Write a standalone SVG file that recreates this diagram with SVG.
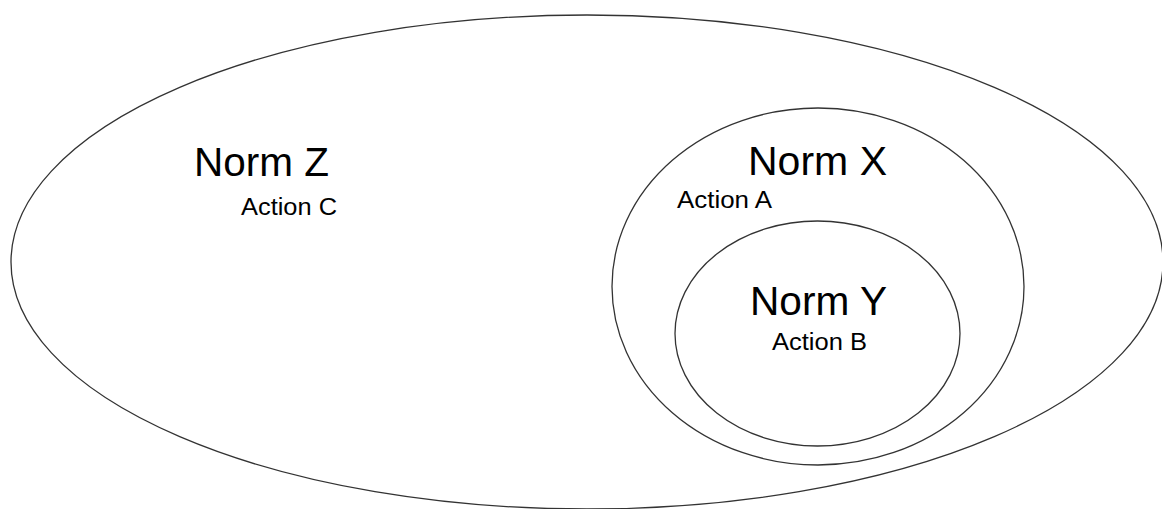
<svg xmlns="http://www.w3.org/2000/svg" width="1162" height="509" viewBox="0 0 1162 509">
<style>
.e{fill:none;stroke:#333;stroke-width:1.3}
.big{font-family:"Liberation Sans",Arial,sans-serif;font-size:40px;fill:#000}
.sm{font-family:"Liberation Sans",Arial,sans-serif;font-size:23px;fill:#000}
</style>
<rect width="1162" height="509" fill="#fff"/>
<g id="normZ">
<ellipse class="e" cx="587" cy="262" rx="576" ry="247"/>
<text class="big" x="194" y="176" textLength="135" lengthAdjust="spacingAndGlyphs">Norm Z</text>
<text class="sm" x="241" y="215" textLength="96" lengthAdjust="spacingAndGlyphs">Action C</text>
</g>
<g id="normX">
<ellipse class="e" cx="818" cy="286.5" rx="206" ry="178.5"/>
<text class="big" x="748" y="175" textLength="139" lengthAdjust="spacingAndGlyphs">Norm X</text>
<text class="sm" x="677" y="208" textLength="95" lengthAdjust="spacingAndGlyphs">Action A</text>
</g>
<g id="normY">
<ellipse class="e" cx="817.5" cy="333.5" rx="142.5" ry="112.5"/>
<text class="big" x="750" y="315" textLength="137" lengthAdjust="spacingAndGlyphs">Norm Y</text>
<text class="sm" x="772" y="350" textLength="95" lengthAdjust="spacingAndGlyphs">Action B</text>
</g>
<g id="connectors"/>
</svg>
